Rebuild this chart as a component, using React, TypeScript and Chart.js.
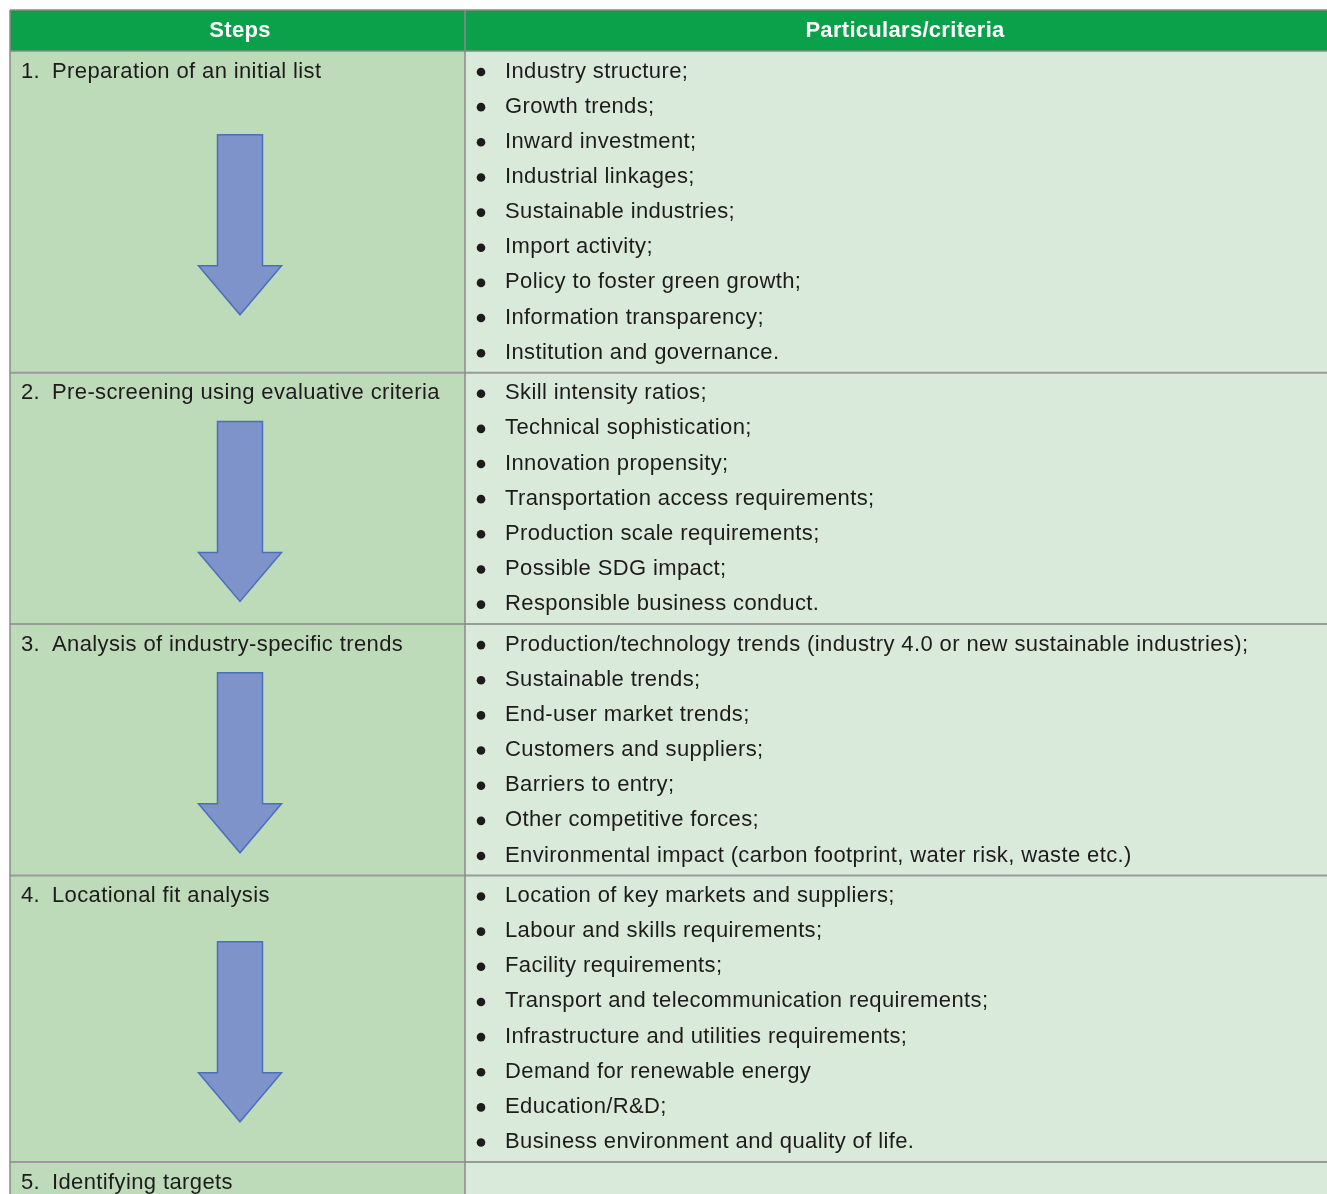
import React, { useEffect, useRef } from "react";
import { Chart, registerables } from "chart.js";

Chart.register(...registerables);

const headers = ["Steps", "Particulars/criteria"];
const stepNumbers = ["1.", "2.", "3.", "4.", "5."];
const stepLabels = [
  "Preparation of an initial list",
  "Pre-screening using evaluative criteria",
  "Analysis of industry-specific trends",
  "Locational fit analysis",
  "Identifying targets",
];
const criteria1 = [
  "Industry structure;",
  "Growth trends;",
  "Inward investment;",
  "Industrial linkages;",
  "Sustainable industries;",
  "Import activity;",
  "Policy to foster green growth;",
  "Information transparency;",
  "Institution and governance.",
];
const criteria2 = [
  "Skill intensity ratios;",
  "Technical sophistication;",
  "Innovation propensity;",
  "Transportation access requirements;",
  "Production scale requirements;",
  "Possible SDG impact;",
  "Responsible business conduct.",
];
const criteria3 = [
  "Production/technology trends (industry 4.0 or new sustainable industries);",
  "Sustainable trends;",
  "End-user market trends;",
  "Customers and suppliers;",
  "Barriers to entry;",
  "Other competitive forces;",
  "Environmental impact (carbon footprint, water risk, waste etc.)",
];
const criteria4 = [
  "Location of key markets and suppliers;",
  "Labour and skills requirements;",
  "Facility requirements;",
  "Transport and telecommunication requirements;",
  "Infrastructure and utilities requirements;",
  "Demand for renewable energy",
  "Education/R&D;",
  "Business environment and quality of life.",
];
const criteria5: string[] = [];
const criteriaLists = [criteria1, criteria2, criteria3, criteria4, criteria5];
const arrowAfterStep = [true, true, true, true, false];

const W = 1327;
const H = 1194;

const tablePlugin = {
  id: "tablePlugin",
  afterDraw(chart: any) {
    const ctx = chart.ctx as CanvasRenderingContext2D;
    const xs = chart.scales.x;
    const ys = chart.scales.y;
    const px = (v: number) => xs.getPixelForValue(v);
    const py = (v: number) => ys.getPixelForValue(v);

    const left = 10;
    const mid = 465;
    const right = W + 2;
    const top = 10;
    const headerBottom = 51;
    const pitch = 35.15;
    const rowExtra = 40.5;
    const font = "22px 'Liberation Sans', Arial, Helvetica, sans-serif";
    const boldFont = "bold 22px 'Liberation Sans', Arial, Helvetica, sans-serif";
    const anyCtx = ctx as any;

    ctx.save();
    // header
    ctx.fillStyle = "#0ba14a";
    ctx.fillRect(px(left), py(top), px(right) - px(left), py(headerBottom) - py(top));
    ctx.fillStyle = "#ffffff";
    ctx.font = boldFont;
    anyCtx.letterSpacing = "0.3px";
    ctx.textAlign = "center";
    ctx.textBaseline = "alphabetic";
    ctx.fillText(headers[0], px(240), py(37));
    ctx.fillText(headers[1], px(905), py(37));

    // rows
    let rowTop = headerBottom;
    const rowBounds: number[] = [];
    stepLabels.forEach((label, i) => {
      const items = criteriaLists[i];
      const n = Math.max(items.length, 1);
      const rowBottom = rowTop + (n - 1) * pitch + rowExtra;
      rowBounds.push(rowTop);
      ctx.fillStyle = "#bddbb9";
      ctx.fillRect(px(left), py(rowTop), px(mid) - px(left), py(rowBottom) - py(rowTop));
      ctx.fillStyle = "#d9eada";
      ctx.fillRect(px(mid), py(rowTop), px(right) - px(mid), py(rowBottom) - py(rowTop));

      ctx.fillStyle = "#1f1b1c";
      ctx.font = font;
      anyCtx.letterSpacing = "0.38px";
      ctx.textAlign = "left";
      ctx.textBaseline = "alphabetic";
      const firstBase = rowTop + 26.5;
      ctx.fillText(stepNumbers[i], px(21), py(firstBase));
      ctx.fillText(label, px(52), py(firstBase));

      items.forEach((t, k) => {
        const base = firstBase + k * pitch;
        ctx.beginPath();
        ctx.arc(px(481), py(base - 5.5), 4.3, 0, Math.PI * 2);
        ctx.fillStyle = "#1f1b1c";
        ctx.fill();
        ctx.fillText(t, px(505), py(base));
      });

      if (arrowAfterStep[i]) {
        const cy = (rowTop + rowBottom) / 2 + 13;
        const aTop = cy - 90;
        const aTip = cy + 90;
        const headStart = aTop + 131;
        const cx = 240;
        ctx.beginPath();
        ctx.moveTo(px(cx - 22.5), py(aTop));
        ctx.lineTo(px(cx + 22.5), py(aTop));
        ctx.lineTo(px(cx + 22.5), py(headStart));
        ctx.lineTo(px(cx + 41.5), py(headStart));
        ctx.lineTo(px(cx), py(aTip));
        ctx.lineTo(px(cx - 41.5), py(headStart));
        ctx.lineTo(px(cx - 22.5), py(headStart));
        ctx.closePath();
        ctx.fillStyle = "#7f93cb";
        ctx.fill();
        ctx.strokeStyle = "#4a6fbd";
        ctx.lineWidth = 1.5;
        ctx.stroke();
      }
      rowTop = rowBottom;
    });

    // borders
    ctx.strokeStyle = "#9a9a9a";
    ctx.lineWidth = 2;
    rowBounds.slice(1).forEach((y) => {
      ctx.beginPath();
      ctx.moveTo(px(left), py(y));
      ctx.lineTo(px(right), py(y));
      ctx.stroke();
    });
    ctx.strokeStyle = "#8a8a8a";
    ctx.lineWidth = 1.5;
    ctx.beginPath();
    ctx.moveTo(px(left), py(top));
    ctx.lineTo(px(right), py(top));
    ctx.moveTo(px(left), py(headerBottom));
    ctx.lineTo(px(right), py(headerBottom));
    ctx.moveTo(px(left), py(top));
    ctx.lineTo(px(left), py(H + 5));
    ctx.moveTo(px(mid), py(top));
    ctx.lineTo(px(mid), py(H + 5));
    ctx.stroke();
    ctx.restore();
  },
};

export default function App() {
  const ref = useRef<HTMLCanvasElement | null>(null);
  useEffect(() => {
    if (!ref.current) return;
    const chart = new Chart(ref.current, {
      type: "scatter",
      data: { datasets: [{ data: [], showLine: false }] },
      options: {
        animation: false,
        responsive: false,
        devicePixelRatio: 1,
        layout: { padding: 0 },
        plugins: { legend: { display: false }, tooltip: { enabled: false } },
        scales: {
          x: { type: "linear", min: 0, max: W, display: false },
          y: { type: "linear", min: 0, max: H, reverse: true, display: false },
        },
      },
      plugins: [tablePlugin],
    });
    return () => chart.destroy();
  }, []);
  return (
    <div style={{ position: "absolute", left: 0, top: 0, width: W, height: H, background: "#fff" }}>
      <canvas ref={ref} width={W} height={H} style={{ width: W, height: H, display: "block" }} />
    </div>
  );
}
